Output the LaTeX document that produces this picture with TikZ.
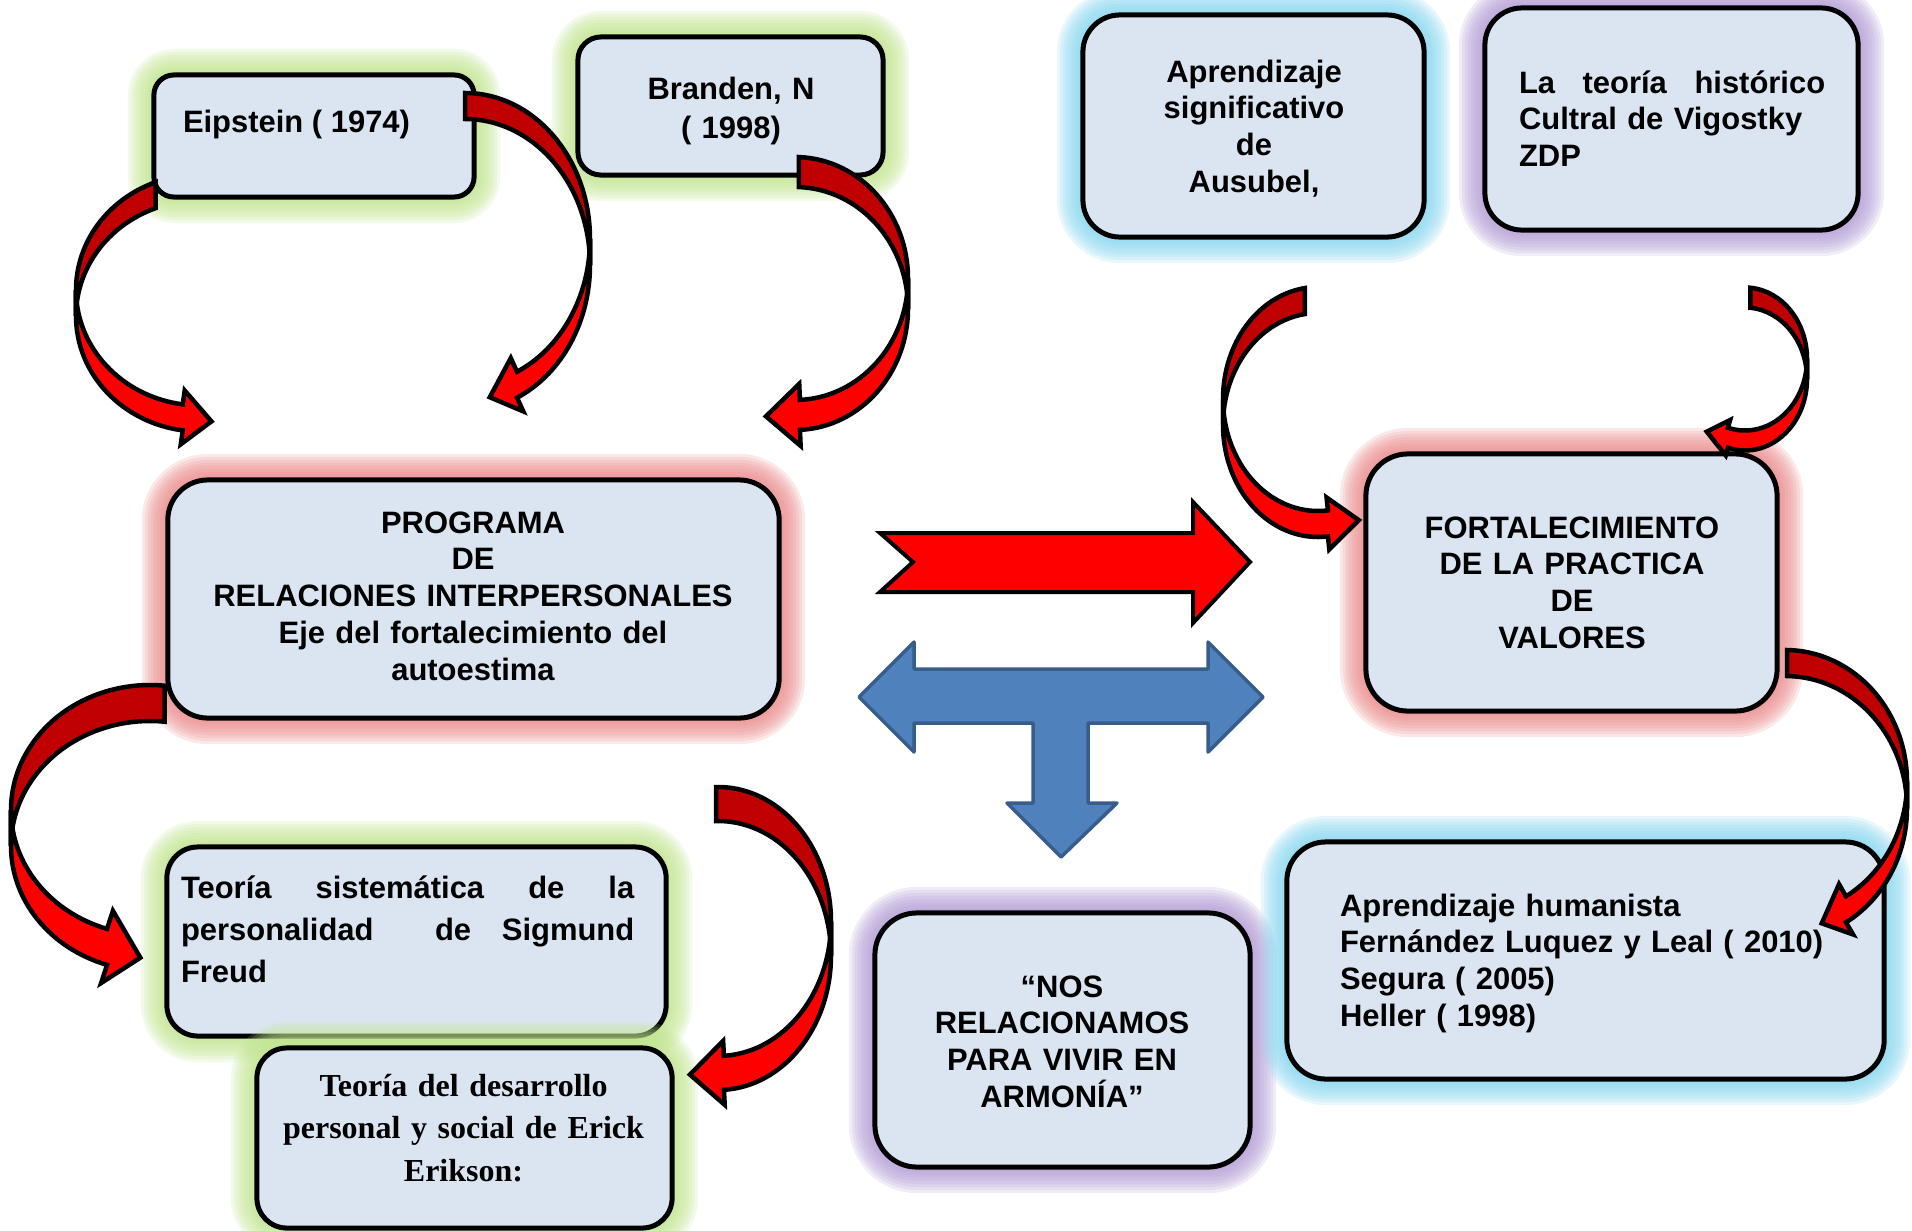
\documentclass[tikz,border=0pt]{standalone}
\usepackage{fontspec}
\setmainfont{Liberation Sans}
\newfontfamily\timesfont{Liberation Serif}
\usepackage{tikz}
\definecolor{boxfill}{HTML}{DBE5F1}
\definecolor{glowgreen}{HTML}{C2E690}
\definecolor{glowred}{HTML}{EC8A8A}
\definecolor{glowcyan}{HTML}{86D8F2}
\definecolor{glowpurple}{HTML}{B49CD6}
\definecolor{arrowdark}{HTML}{C00000}
\definecolor{arrowred}{HTML}{FF0000}
\definecolor{tblue}{HTML}{4F81BD}
\definecolor{tbluedark}{HTML}{385D8A}
\tikzset{box/.style={draw=black, line width=0.05cm, fill=boxfill, rounded corners=#1, inner sep=0pt, outer sep=0pt},
glow/.style={preaction={draw=#1, draw opacity=0.18, line width=0.52cm}, preaction={draw=#1, draw opacity=0.18, line width=0.46cm},
preaction={draw=#1, draw opacity=0.18, line width=0.4cm}, preaction={draw=#1, draw opacity=0.18, line width=0.34cm},
preaction={draw=#1, draw opacity=0.18, line width=0.28cm}, preaction={draw=#1, draw opacity=0.18, line width=0.22cm},
preaction={draw=#1, draw opacity=0.18, line width=0.16cm}, preaction={draw=#1, draw opacity=0.18, line width=0.1cm}},
txt/.style={inner sep=0pt, outer sep=0pt, font=\bfseries\fontsize{8.8}{10.5}\selectfont},
backface/.style={fill=arrowdark, draw=black, line width=0.045cm},
frontface/.style={fill=arrowred, draw=black, line width=0.045cm}}
\newcommand{\redcurve}[8]{%
\begin{scope}[#1]
\filldraw[backface] ({#2*cos(#5)},{#3*sin(#5)}) arc[start angle=#5, end angle=180, x radius=#2, y radius=#3]
  -- ++(0,#4) arc[start angle=180, end angle=#5, x radius=#2, y radius=#3] -- cycle;
\filldraw[frontface] (-#2,0) arc[start angle=180, end angle=#6, x radius=#2, y radius=#3]
  -- ++({-#7*cos(#6)},{-#7*sin(#6)})
  -- ++({#8*sin(#6)+#7*cos(#6)},{#4/2-#8*cos(#6)+#7*sin(#6)})
  -- ++({#7*cos(#6)-#8*sin(#6)},{#4/2+#8*cos(#6)+#7*sin(#6)})
  -- ++({-#7*cos(#6)},{-#7*sin(#6)})
  arc[start angle=#6, end angle=180, x radius=#2, y radius=#3] -- cycle;
\end{scope}}

\begin{document}
\begin{tikzpicture}[x=0.01cm, y=-0.01cm]
\fill[white] (0,0) rectangle (1912,1230);
\useasboundingbox (0,0) rectangle (1912,1230);
\node[box=0.2cm, glow=glowgreen, minimum width=3.2cm, minimum height=1.22cm] (eip) at (314,136) {};
\node[box=0.23cm, glow=glowgreen, minimum width=3.05cm, minimum height=1.38cm] (bra) at (730.5,106) {};
\node[box=0.37cm, glow=glowcyan, minimum width=3.41cm, minimum height=2.22cm] (aus) at (1253.5,126) {};
\node[box=0.37cm, glow=glowpurple, minimum width=3.73cm, minimum height=2.22cm] (vig) at (1671.5,119) {};
\node[box=0.4cm, glow=glowred, minimum width=6.11cm, minimum height=2.38cm] (prog) at (473.5,599) {};
\node[box=0.42cm, glow=glowred, minimum width=4.11cm, minimum height=2.57cm] (fort) at (1571.5,582.5) {};
\node[box=0.31cm, glow=glowgreen, minimum width=4.99cm, minimum height=1.89cm] (freud) at (416.5,941.5) {};
\node[box=0.3cm, glow=glowgreen, minimum width=4.15cm, minimum height=1.8cm] (erik) at (464.5,1138) {};
\node[box=0.42cm, glow=glowpurple, minimum width=3.75cm, minimum height=2.54cm] (nos) at (1062.5,1040) {};
\node[box=0.39cm, glow=glowcyan, minimum width=5.97cm, minimum height=2.37cm] (hum) at (1585.5,960.5) {};

\node[txt, anchor=base west] (eipt) at (183,132) {Eipstein ( 1974)};
\node[txt, font=\bfseries\fontsize{8.8}{11.1}\selectfont, text width=2.8cm, align=center, anchor=base] (brat) at (731,99) {Branden, N\\( 1998)};
\node[txt, text width=3cm, align=center, anchor=base] (aust) at (1254,82) {Aprendizaje\\significativo\\de\\Ausubel,};
\node[txt, text width=3.06cm, align=left, anchor=base west] (vigt) at (1519,93) {La\hfill teoría\hfill histórico\\Cultral de Vigostky\\ZDP};
\node[txt, font=\bfseries\fontsize{8.8}{10.45}\selectfont, text width=5.9cm, align=center, anchor=base] (progt) at (473,533) {PROGRAMA\\DE\\RELACIONES INTERPERSONALES\\Eje del fortalecimiento del\\autoestima};
\node[txt, text width=3.9cm, align=center, anchor=base] (fortt) at (1572,538) {FORTALECIMIENTO\\DE LA PRACTICA\\DE\\VALORES};
\node[txt, font=\bfseries\fontsize{8.8}{11.95}\selectfont, text width=4.53cm, align=left, anchor=base west] (freudt) at (181,898) {Teoría\hfill sistemática\hfill de\hfill la\\personalidad\hfill\hfill de\hfill Sigmund\\Freud};
\node[txt, font=\timesfont\bfseries\fontsize{9.1}{12.2}\selectfont, text width=4cm, align=center, anchor=base] (erikt) at (463.5,1096) {Teoría del desarrollo\\personal y social de Erick\\Erikson:};
\node[txt, text width=3.4cm, align=center, anchor=base] (nost) at (1062,997) {“NOS\\RELACIONAMOS\\PARA VIVIR EN\\ARMONÍA”};
\node[txt, text width=5.2cm, align=left, anchor=base west] (humt) at (1340,916) {Aprendizaje humanista\\Fernández Luquez y Leal ( 2010)\\Segura ( 2005)\\Heller ( 1998)};

\filldraw[fill=arrowred, draw=black, line width=0.04cm] (880,533) -- (913,562) -- (880,592) -- (1193,592) -- (1193,623) -- (1250,562) -- (1193,502) -- (1193,533) -- cycle;
\filldraw[fill=tblue, draw=tbluedark, line width=0.035cm, line join=round] (859,697) -- (914,642) -- (914,669) -- (1208,669) -- (1208,642) -- (1263,697) -- (1208,752) -- (1208,723) -- (1088,723) -- (1088,803) -- (1117,803) -- (1061,857) -- (1007,803) -- (1033,803) -- (1033,723) -- (914,723) -- (914,752) -- cycle;

\redcurve{shift={(200,290)}}{124}{115.5}{26}{249}{98}{14}{29}
\redcurve{shift={(465,239)}, xscale=-1}{125}{146}{26}{270}{114.6}{15}{30}
\redcurve{shift={(795,278.5)}, xscale=-1}{113}{121.5}{30}{268}{92.5}{16}{34}
\redcurve{shift={(1318,399)}}{95}{112}{26}{262}{84}{13}{31}
\redcurve{shift={(1745,359)}, xscale=-1}{62}{71.5}{20}{265}{74}{8}{22}
\redcurve{shift={(1785,782)}, xscale=-1}{122}{132}{26}{269}{120}{14}{28}
\redcurve{shift={(150,810)}}{139}{125}{36}{276}{108}{19}{35}
\redcurve{shift={(718,921.5)}, xscale=-1}{113}{134.5}{34}{271}{93}{15}{34}
\end{tikzpicture}
\end{document}
